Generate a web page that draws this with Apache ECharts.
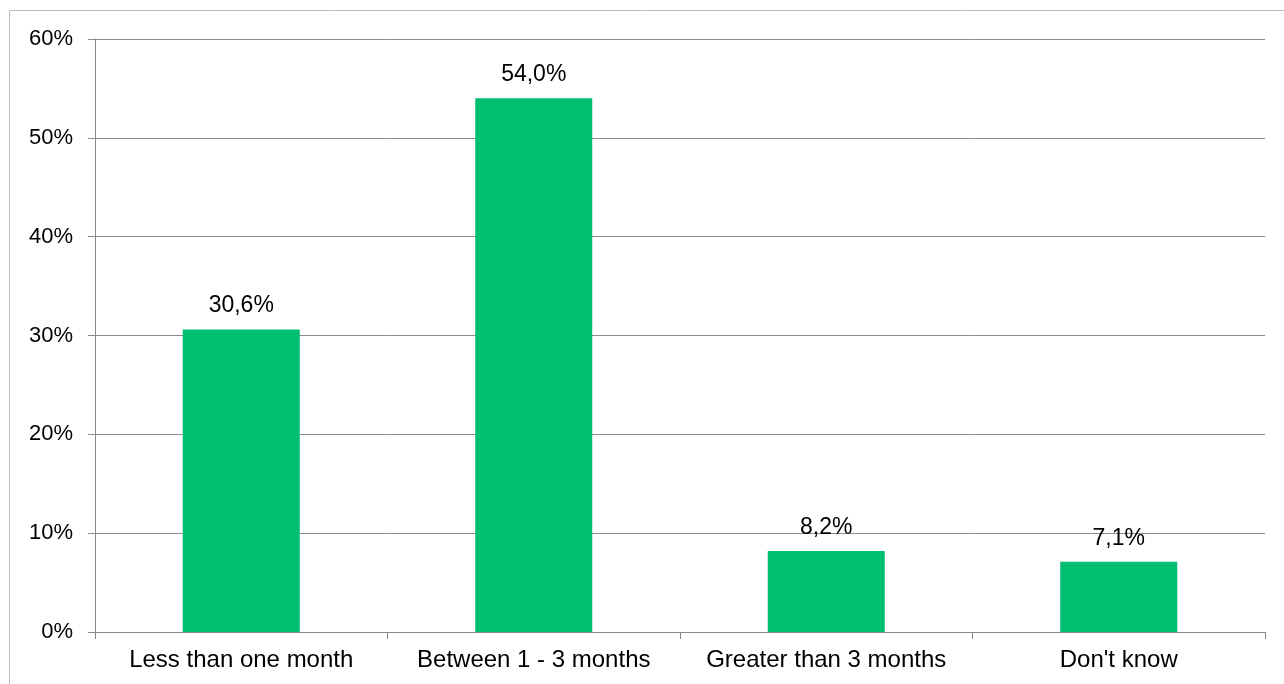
<!DOCTYPE html>
<html><head><meta charset="utf-8">
<script src="https://cdn.jsdelivr.net/npm/echarts@6/dist/echarts.min.js"></script>
<style>html,body{margin:0;padding:0;background:#fff}#c{width:1284px;height:684px}</style>
</head><body><div id="c"></div>
<script>
const categories = ["Less than one month", "Between 1 - 3 months", "Greater than 3 months", "Don't know"];
const values = [30.6, 54.0, 8.2, 7.1];
const yTicks = [0, 10, 20, 30, 40, 50, 60];

const chart = echarts.init(document.getElementById('c'), null, {renderer: 'canvas'});
const font = 'Liberation Sans, Arial, sans-serif';
chart.setOption({
  animation: false,
  backgroundColor: '#fff',
  graphic: [{
    type: 'rect', shape: {x: 9.5, y: 10.5, width: 1400, height: 800},
    style: {fill: 'none', stroke: '#bbbbbb', lineWidth: 1}, silent: true
  }],
  grid: {left: 95, right: 19, top: 39, bottom: 52, containLabel: false},
  xAxis: {
    type: 'category', data: categories,
    axisLine: {lineStyle: {color: '#888', width: 1}},
    axisTick: {show: true, length: 7, interval: 0, alignWithLabel: false, lineStyle: {color: '#888'}},
    axisLabel: {color: '#000', fontSize: 24, fontFamily: font, margin: 16, interval: 0, hideOverlap: false}
  },
  yAxis: {
    type: 'value', min: yTicks[0], max: yTicks[yTicks.length - 1], interval: 10,
    axisLine: {show: true, lineStyle: {color: '#888', width: 1}},
    axisTick: {show: true, length: 7, lineStyle: {color: '#888'}},
    splitLine: {show: true, lineStyle: {color: '#8c8c8c', width: 1}},
    axisLabel: {color: '#000', fontSize: 22, fontFamily: font, margin: 22, formatter: v => v + '%'}
  },
  series: [{
    type: 'bar', data: values, barWidth: '40%',
    itemStyle: {color: '#00BF6F'},
    label: {show: true, position: 'top', distance: 12, color: '#000', fontSize: 23, fontFamily: font,
      formatter: p => p.value.toFixed(1).replace('.', ',') + '%'}
  }]
});
</script></body></html>
